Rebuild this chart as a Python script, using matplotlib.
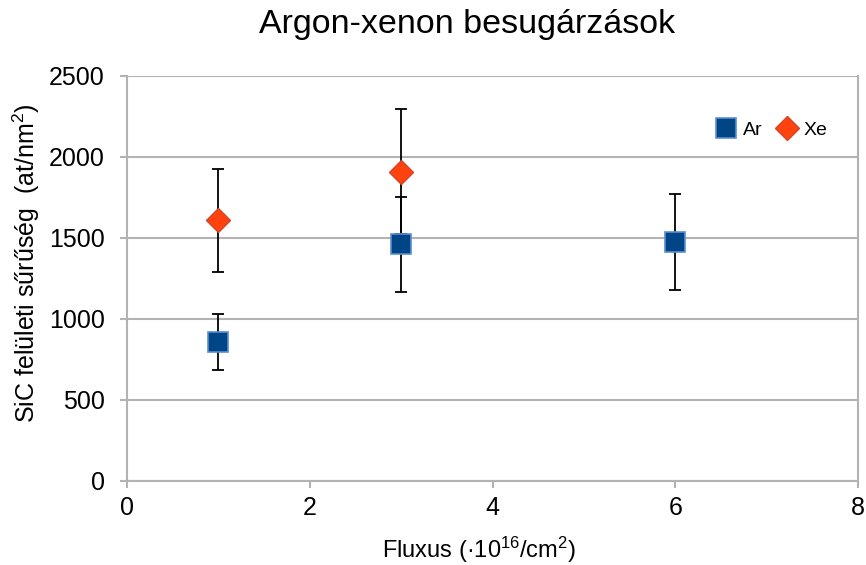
import matplotlib
matplotlib.use("Agg")
import matplotlib.pyplot as plt

plt.rcParams["font.family"] = ["Liberation Sans", "DejaVu Sans"]
plt.rcParams["mathtext.fontset"] = "custom"
plt.rcParams["mathtext.rm"] = "Liberation Sans"
plt.rcParams["mathtext.default"] = "rm"

# ---------- Data ----------
ar_x = [1, 3, 6]
ar_y = [860, 1460, 1475]
ar_err = [173, 293, 296]

xe_x = [1, 3]
xe_y = [1610, 1910]
xe_err = [318, 388]

x_ticks = [0, 2, 4, 6, 8]
y_ticks = [0, 500, 1000, 1500, 2000, 2500]

GRID = "#b3b3b3"

# ---------- Plot ----------
fig = plt.figure(figsize=(8.66, 5.65), dpi=100)
ax = fig.add_axes([0.1467, 0.1487, 0.8441, 0.7168])

ax.errorbar(xe_x, xe_y, yerr=xe_err, fmt="none", ecolor="black",
            elinewidth=1.3, capsize=4.5, capthick=1.3, zorder=3)
ax.errorbar(ar_x, ar_y, yerr=ar_err, fmt="none", ecolor="black",
            elinewidth=1.3, capsize=4.5, capthick=1.3, zorder=3)
ax.plot(ar_x, ar_y, linestyle="none", marker="s", markersize=15,
        markerfacecolor="#004586", markeredgecolor="#5b8fd0",
        markeredgewidth=1.2, label="Ar", zorder=4)
ax.plot(xe_x, xe_y, linestyle="none", marker="D", markersize=12.5,
        markerfacecolor="#ff420e", markeredgecolor="#d0462a",
        markeredgewidth=1.0, label="Xe", zorder=5)

ax.set_xlim(0, 8)
ax.set_ylim(0, 2500)
ax.set_xticks(x_ticks)
ax.set_yticks(y_ticks)
ax.tick_params(axis="both", labelsize=18, color=GRID, width=1.5, length=5,
               direction="out")
ax.tick_params(axis="x", pad=6)
ax.tick_params(axis="y", pad=11)

ax.yaxis.grid(True, color=GRID, linewidth=1.5)
ax.set_axisbelow(True)
for side in ["left", "bottom", "right"]:
    ax.spines[side].set_color(GRID)
    ax.spines[side].set_linewidth(1.5)
ax.spines["top"].set_visible(False)

fig.text(0.553, 0.0124, "Fluxus (·10$^{16}$/cm$^{2}$)", fontsize=17,
         ha="center", va="baseline")
fig.text(0.030, 0.535, "SiC felületi sűrűség  (at/nm$^{2}$)", fontsize=18,
         ha="center", va="center", rotation=90)

fig.text(0.539, 0.9416, "Argon-xenon besugárzások", fontsize=24.5,
         ha="center", va="baseline")

ax.legend(loc="center left", bbox_to_anchor=(0.806, 0.867), ncol=2,
          frameon=False, fontsize=14, handlelength=1.0, handletextpad=0.35,
          columnspacing=0.8, markerscale=1.0, borderpad=0, borderaxespad=0)

fig.savefig("out.png", dpi=100)
plt.close(fig)
